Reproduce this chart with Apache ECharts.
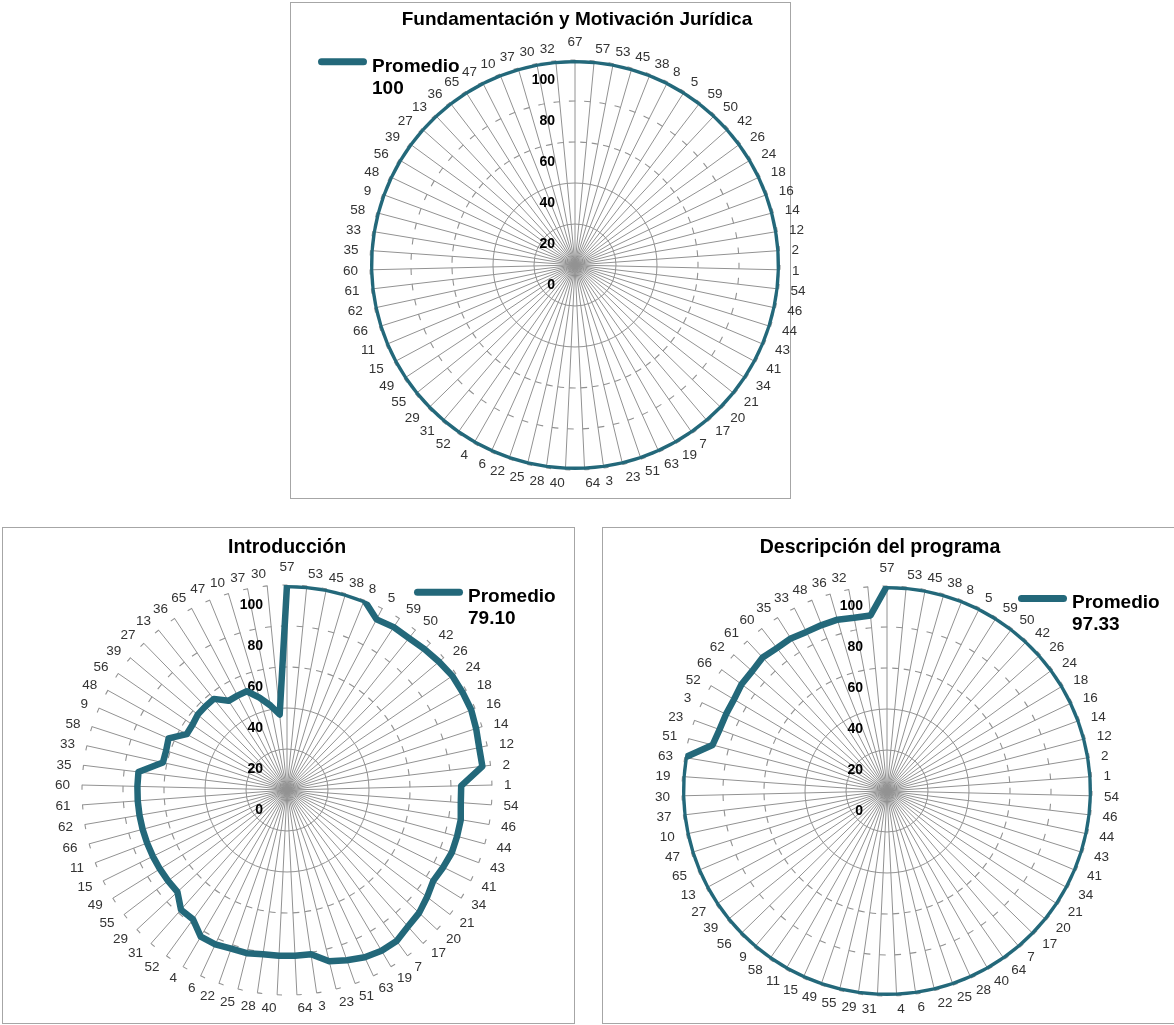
<!DOCTYPE html>
<html>
<head>
<meta charset="utf-8">
<script src="https://cdn.jsdelivr.net/npm/echarts@6/dist/echarts.min.js"></script>
<style>
html,body{margin:0;padding:0;background:#fff;width:1174px;height:1025px;overflow:hidden;position:relative}
.frame{position:absolute;border:1px solid #a6a6a6;box-sizing:border-box;background:#fff}
.chart{position:absolute}
</style>
</head>
<body>
<div class="frame" style="left:290px;top:2px;width:501px;height:497px"></div>
<div class="frame" style="left:2px;top:527px;width:573px;height:497px"></div>
<div class="frame" style="left:602px;top:527px;width:576px;height:497px"></div>
<div id="c1" class="chart" style="left:270px;top:0px;width:560px;height:515px"></div>
<div id="c2" class="chart" style="left:0px;top:515px;width:600px;height:510px"></div>
<div id="c3" class="chart" style="left:590px;top:515px;width:584px;height:510px"></div>
<script>
// ---------- DATA ----------
const seriesName = 'Promedio';

const fundTitle = 'Fundamentación y Motivación Jurídica';
const fundAverage = '100';
const fundCategories = ['67','57','53','45','38','8','5','59','50','42','26','24','18','16','14','12','2','1','54','46','44','43','41','34','21','20','17','7','19','63','51','23','3','64','40','28','25','22','6','4','52','31','29','55','49','15','11','66','62','61','60','35','33','58','9','48','56','39','27','13','36','65','47','10','37','30','32'];
const fundValues = [100,100,100,100,100,100,100,100,100,100,100,100,100,100,100,100,100,100,100,100,100,100,100,100,100,100,100,100,100,100,100,100,100,100,100,100,100,100,100,100,100,100,100,100,100,100,100,100,100,100,100,100,100,100,100,100,100,100,100,100,100,100,100,100,100,100,100];

const introTitle = 'Introducción';
const introAverage = '79.10';
const introCategories = ['57','53','45','38','8','5','59','50','42','26','24','18','16','14','12','2','1','54','46','44','43','41','34','21','20','17','7','19','63','51','23','3','64','40','28','25','22','6','4','52','31','29','55','49','15','11','66','62','61','60','35','33','58','9','48','56','39','27','13','36','65','47','10','37','30'];
const introValues = [100,100,100,100,100,94,95,95,96,97,98,98,98,97,96,96,85,85,86,86,86,85,84,86,88,89,91,91,90,88,86,81,81,81,81,82,82,83,83,78,78,73,73,73,73,73,73,73,73,73,73,62,62,63,56,56,57,57,57,52,52,52,47,42,37];

const descTitle = 'Descripción del programa';
const descAverage = '97.33';
const descCategories = ['57','53','45','38','8','5','59','50','42','26','24','18','16','14','12','2','1','54','46','44','43','41','34','21','20','17','7','64','40','28','25','22','6','4','31','29','55','49','15','11','58','9','56','39','27','13','65','47','10','37','30','19','63','51','23','3','52','66','62','61','60','35','33','48','36','32',''];
const descValues = [100,100,100,100,100,100,100,100,100,100,100,100,100,100,100,100,100,100,100,100,100,100,100,100,100,100,100,100,100,100,100,100,100,100,100,100,100,100,100,100,100,100,100,100,100,100,100,100,100,100,100,100,100,88,87,87,87,88,88,89,88,88,87,87,87,86,86];

const radialMin = 0, radialMax = 100, radialStep = 20;

// ---------- STYLE ----------
const FONT = '"Liberation Sans", Arial, Helvetica, sans-serif';
const TEAL = '#23687a';
const GRID = '#929292';
const LABEL_COLOR = '#333';
const LABEL_SIZE = 13.5;
const R = 205;

const measureCtx = document.createElement('canvas').getContext('2d');
function textWidth(t) {
  measureCtx.font = LABEL_SIZE + 'px "Liberation Sans"';
  return measureCtx.measureText(t).width;
}

// per-label padding so labels sit like the spreadsheet layout
function angleLabelRich(cats) {
  const N = cats.length;
  const m = -20, g = 12, h = LABEL_SIZE, dy = 1;
  const rich = {};
  for (let i = 0; i < N; i++) {
    const th = 2 * Math.PI * i / N;
    const s = Math.sin(th), c = Math.cos(th);
    const w = textWidth(cats[i]);
    const ax = (R + g) * s, ay = -(R + g) * c + dy;
    let X, Y;
    if (i === 0) { X = ax; Y = ay - h / 2; }
    else if (s > -1e-9) { X = ax + w / 2; Y = ay; }
    else { X = ax - w / 2; Y = ay; }
    const px = (R + m) * s, py = -(R + m) * c;
    const hA = Math.abs(px) / R < 0.3 ? 'center' : (px > 0 ? 'left' : 'right');
    const vA = Math.abs(py) / R < 0.3 ? 'middle' : (py > 0 ? 'top' : 'bottom');
    let pl = 0, pr = 0, pt = 0, pb = 0, d;
    if (hA === 'left') pl = X - w / 2 - px;
    else if (hA === 'right') pr = px - (X + w / 2);
    else { d = 2 * (X - px); if (d > 0) pl = d; else pr = -d; }
    if (vA === 'top') pt = Y - h / 2 - py;
    else if (vA === 'bottom') pb = py - (Y + h / 2);
    else { d = 2 * (Y - py); if (d > 0) pt = d; else pb = -d; }
    rich['p' + i] = {
      padding: [Math.max(pt, 0), Math.max(pr, 0), Math.max(pb, 0), Math.max(pl, 0)],
      fontSize: LABEL_SIZE, fontFamily: FONT, color: LABEL_COLOR
    };
  }
  return {rich: rich, margin: m};
}

function buildOption(cfg) {
  const cats = cfg.categories;
  const N = cats.length;
  const center = [cfg.cx, cfg.cy];
  const lineData = cfg.values.map(function (v, i) { return [v, i]; });
  lineData.push([cfg.values[0], N]);
  const lab = angleLabelRich(cats);

  const polar = [], angleAxis = [], radiusAxis = [];
  polar.push({center: center, radius: R});
  angleAxis.push({
    polarIndex: 0, type: 'value', min: 0, max: N, interval: 1,
    startAngle: 90, clockwise: true,
    axisLine: {show: false}, axisTick: {show: false},
    axisLabel: {
      show: true, margin: lab.margin, fontSize: LABEL_SIZE, fontFamily: FONT, color: LABEL_COLOR,
      formatter: function (v) { return (v < N && cats[v] !== '') ? '{p' + v + '|' + cats[v] + '}' : ''; },
      rich: lab.rich
    },
    splitLine: {show: true, lineStyle: {color: GRID, width: 1}}
  });
  radiusAxis.push({
    polarIndex: 0, type: 'value', min: radialMin, max: radialMax, interval: radialStep,
    axisLine: {show: false}, axisTick: {show: false}, splitLine: {show: false},
    axisLabel: {show: true, margin: cfg.radialMargin, color: '#000', fontWeight: 'bold', fontSize: 14,
      fontFamily: FONT, verticalAlign: 'top', padding: [13, 0, 0, 0]},
    z: 5
  });
  // solid inner rings (20, 40)
  polar.push({center: center, radius: R * 0.4});
  angleAxis.push({polarIndex: 1, type: 'value', show: false});
  radiusAxis.push({
    polarIndex: 1, type: 'value', min: 0, max: 40, interval: 20,
    axisLine: {show: false}, axisTick: {show: false}, axisLabel: {show: false},
    splitLine: {show: true, lineStyle: {color: GRID, width: 1}}
  });
  // dashed rings (60, 80) and end hooks (100)
  [[60, 6.5], [80, 6.5], [100, 5]].forEach(function (rd, k) {
    const r = R * rd[0] / 100, d = rd[1];
    const p = 2 * Math.PI * r / N;
    const off = ((d + r * Math.PI / 2) % p + p) % p;
    polar.push({center: center, radius: r});
    angleAxis.push({polarIndex: 2 + k, type: 'value', show: false});
    radiusAxis.push({
      polarIndex: 2 + k, type: 'value', min: 0, max: 1, interval: 1,
      axisLine: {show: false}, axisTick: {show: false}, axisLabel: {show: false},
      splitLine: {show: true, lineStyle: {color: GRID, width: 1.1, type: [d, p - d], dashOffset: off}}
    });
  });

  return {
    animation: false,
    title: {
      text: cfg.title, left: cfg.titleX, top: cfg.titleTop, textAlign: 'center', padding: 0,
      textStyle: {fontFamily: FONT, fontSize: cfg.titleSize, fontWeight: 'bold', color: '#000'}
    },
    legend: {
      left: cfg.legendLeft, top: cfg.legendCy - 21, padding: 0, itemWidth: 49, itemHeight: 7,
      icon: 'path://M3.5,0 L45.5,0 A3.5,3.5 0 0 1 45.5,7 L3.5,7 A3.5,3.5 0 0 1 3.5,0 Z',
      selectedMode: false,
      data: [{name: seriesName}],
      formatter: function (name) { return '{s| }\n{t|' + name + '}\n{t|' + cfg.average + '}'; },
      textStyle: {
        fontFamily: FONT, fontWeight: 'bold', fontSize: 19, color: '#000',
        rich: {
          s: {fontSize: 1, lineHeight: 31},
          t: {fontFamily: FONT, fontWeight: 'bold', fontSize: 19, color: '#000', lineHeight: 22}
        }
      }
    },
    polar: polar, angleAxis: angleAxis, radiusAxis: radiusAxis,
    series: [{
      type: 'line', name: seriesName, coordinateSystem: 'polar', polarIndex: 0,
      data: lineData, symbol: 'none', clip: false, color: TEAL,
      lineStyle: {color: TEAL, width: 6.5, join: 'round', cap: 'round'},
      itemStyle: {color: TEAL}, z: 10
    }]
  };
}

// page-coordinate layout converted to each chart's own box
const charts = [
  {el: 'c1', ox: 270, oy: 0, title: fundTitle, average: fundAverage, categories: fundCategories, values: fundValues,
   cx: 575, cy: 265, titleX: 577, titleTop: 10, titleSize: 19, legendLeft: 318, legendCy: 60.3, radialMargin: 20},
  {el: 'c2', ox: 0, oy: 515, title: introTitle, average: introAverage, categories: introCategories, values: introValues,
   cx: 287, cy: 790, titleX: 287, titleTop: 538, titleSize: 19.5, legendLeft: 414, legendCy: 590.7, radialMargin: 24},
  {el: 'c3', ox: 590, oy: 515, title: descTitle, average: descAverage, categories: descCategories, values: descValues,
   cx: 887, cy: 791, titleX: 880, titleTop: 538, titleSize: 19.5, legendLeft: 1018, legendCy: 597, radialMargin: 24}
];
charts.forEach(function (c) {
  const local = Object.assign({}, c, {
    cx: c.cx - c.ox, cy: c.cy - c.oy, titleX: c.titleX - c.ox, titleTop: c.titleTop - c.oy,
    legendLeft: c.legendLeft - c.ox, legendCy: c.legendCy - c.oy
  });
  const chart = echarts.init(document.getElementById(c.el), null, {renderer: 'canvas'});
  chart.setOption(buildOption(local));
});
</script>
</body>
</html>
